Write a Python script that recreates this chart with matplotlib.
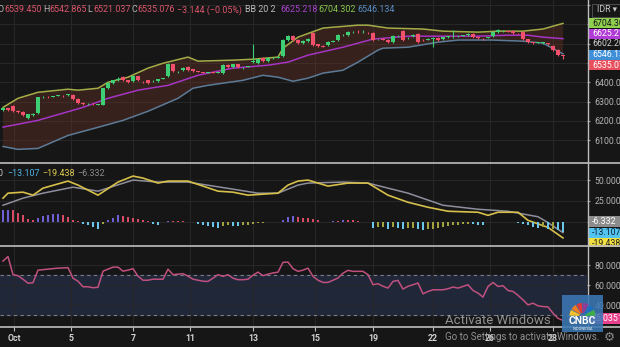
import matplotlib
matplotlib.use("Agg")
import matplotlib.pyplot as plt
from matplotlib.lines import Line2D
from matplotlib.patches import Rectangle, Wedge

plt.rcParams['font.family'] = ['Roboto', 'DejaVu Sans']

# USD/IDR candles
opens = [6255, 6265, 6276, 6250, 6245, 6214, 6232, 6240, 6322, 6324,
         6326, 6330, 6330, 6333, 6336, 6312, 6294, 6286, 6288, 6284,
         6283, 6369, 6395, 6410, 6426, 6410, 6405, 6431, 6402, 6410,
         6405, 6405, 6418, 6431, 6493, 6452, 6462, 6478, 6467, 6457,
         6452, 6450, 6452, 6450, 6447, 6491, 6478, 6493, 6473, 6480,
         6504, 6500, 6524, 6509, 6524, 6527, 6535, 6618, 6638, 6618,
         6602, 6612, 6654, 6597, 6586, 6592, 6610, 6618, 6643, 6643,
         6659, 6661, 6659, 6656, 6654, 6621, 6623, 6618, 6607, 6638,
         6664, 6628, 6640, 6649, 6618, 6620, 6623, 6628, 6623, 6633,
         6638, 6638, 6640, 6643, 6649, 6633, 6623, 6630, 6638, 6659,
         6664, 6664, 6664, 6654, 6659, 6623, 6607, 6605, 6602, 6602,
         6586, 6566, 6539.450]
highs = [6270, 6268, 6280, 6255, 6250, 6238, 6242, 6326, 6328, 6327,
         6331, 6336, 6334, 6341, 6340, 6316, 6298, 6291, 6291, 6289,
         6372, 6400, 6414, 6425, 6430, 6413, 6436, 6434, 6406, 6413,
         6410, 6419, 6424, 6497, 6496, 6458, 6477, 6482, 6470, 6460,
         6455, 6455, 6455, 6455, 6492, 6494, 6496, 6496, 6479, 6486,
         6600, 6522, 6528, 6528, 6530, 6533, 6622, 6645, 6642, 6622,
         6616, 6628, 6660, 6600, 6590, 6612, 6616, 6648, 6649, 6663,
         6664, 6670, 6672, 6660, 6658, 6626, 6627, 6622, 6642, 6644,
         6668, 6634, 6647, 6653, 6622, 6627, 6634, 6632, 6636, 6641,
         6669, 6644, 6646, 6652, 6652, 6636, 6627, 6636, 6663, 6673,
         6670, 6668, 6668, 6657, 6663, 6626, 6610, 6610, 6610, 6605,
         6590, 6570, 6542.865]
lows = [6250, 6250, 6245, 6240, 6225, 6208, 6228, 6236, 6318, 6318,
        6322, 6327, 6325, 6330, 6307, 6290, 6282, 6282, 6281, 6280,
        6280, 6365, 6390, 6406, 6406, 6396, 6400, 6405, 6396, 6391,
        6401, 6402, 6415, 6428, 6452, 6448, 6458, 6458, 6453, 6451,
        6447, 6446, 6447, 6446, 6444, 6474, 6475, 6474, 6470, 6477,
        6500, 6496, 6505, 6505, 6520, 6523, 6530, 6614, 6614, 6598,
        6598, 6608, 6588, 6582, 6580, 6588, 6606, 6614, 6640, 6640,
        6656, 6656, 6655, 6651, 6614, 6617, 6616, 6603, 6603, 6634,
        6612, 6624, 6636, 6602, 6612, 6617, 6581, 6614, 6620, 6630,
        6628, 6635, 6637, 6640, 6630, 6624, 6618, 6627, 6634, 6655,
        6661, 6659, 6650, 6649, 6618, 6602, 6600, 6601, 6599, 6594,
        6562, 6535, 6521.037]
closes = [6265, 6255, 6250, 6245, 6229, 6234, 6238, 6322, 6324, 6322,
          6328, 6333, 6328, 6338, 6312, 6294, 6286, 6288, 6285, 6286,
          6369, 6395, 6410, 6418, 6410, 6400, 6431, 6410, 6400, 6395,
          6407, 6416, 6421, 6493, 6457, 6455, 6473, 6462, 6457, 6455,
          6450, 6452, 6450, 6452, 6488, 6478, 6493, 6478, 6476, 6483,
          6509, 6519, 6509, 6524, 6527, 6530, 6618, 6638, 6618, 6602,
          6612, 6623, 6592, 6586, 6584, 6607, 6612, 6643, 6645, 6659,
          6661, 6659, 6661, 6654, 6618, 6623, 6620, 6607, 6638, 6640,
          6618, 6630, 6643, 6607, 6616, 6623, 6628, 6618, 6633, 6638,
          6639, 6640, 6643, 6649, 6633, 6628, 6621, 6633, 6659, 6669,
          6666, 6662, 6654, 6652, 6623, 6607, 6604, 6607, 6607, 6597,
          6566, 6538.22, 6535.076]

# Bollinger Bands (20, 2)
bb_upper_idx = [0, 3, 7, 13, 15, 19, 21, 25, 29, 32, 37, 39, 46, 50,
                55, 56, 59, 64, 71, 73, 77, 84, 88, 95, 99, 104, 108, 112]
bb_upper = [6270, 6317, 6348, 6364, 6359, 6369, 6400, 6426, 6473, 6498,
            6530, 6509, 6514, 6519, 6530, 6576, 6633, 6680, 6695, 6695,
            6680, 6675, 6664, 6659, 6664, 6664, 6675, 6704.302]
bb_mid_idx = [0, 7, 16, 21, 27, 33, 39, 46, 53, 57, 61, 68, 74, 81,
              88, 95, 101, 105, 108, 112]
bb_mid = [6168, 6203, 6270, 6317, 6359, 6384, 6436, 6473, 6488, 6504,
          6540, 6581, 6623, 6638, 6638, 6638, 6643, 6643, 6633, 6625.218]
bb_lower_idx = [0, 3, 7, 13, 19, 24, 29, 35, 38, 41, 48, 52, 55, 58,
                61, 64, 68, 71, 75, 76, 81, 87, 91, 98, 104, 108, 112]
bb_lower = [6068, 6053, 6058, 6125, 6167, 6203, 6250, 6317, 6369, 6384,
            6410, 6436, 6426, 6405, 6421, 6447, 6462, 6504, 6566, 6576,
            6581, 6607, 6618, 6618, 6612, 6602, 6546.134]

# MACD (12, 26, 9)
macd_idx = [0, 1, 4, 6, 8, 13, 15, 19, 23, 26, 28, 31, 33, 37, 43, 46,
            49, 55, 57, 59, 61, 65, 69, 73, 77, 81, 85, 89, 95, 97, 99,
            103, 105, 109, 112]
macd_line = [28.3, 34.3, 35.5, 31.9, 40.3, 48.8, 44.0, 31.9, 47.6, 54.8,
             52.4, 46.4, 48.8, 48.8, 36.7, 35.5, 31.9, 34.3, 44.0, 48.8,
             50.0, 42.8, 46.4, 46.4, 31.9, 23.4, 17.4, 12.6, 11.4, 7.7,
             11.4, 11.4, 1.7, -6.8, -19.438]
signal_idx = [0, 4, 8, 14, 19, 26, 31, 37, 46, 51, 55, 59, 61, 68, 73,
              81, 88, 95, 101, 107, 109, 112]
signal_line = [19.8, 28.3, 34.3, 41.5, 36.7, 50.0, 47.6, 47.6, 39.1, 34.3,
               34.3, 44.0, 46.4, 47.6, 46.4, 34.3, 19.8, 15.0, 12.6, 6.0,
               -1.0, -13.107]
macd_hist = [6.9, 7.2, 7.2, 5.3, 3.8, 1.8, 0.8, 2.4, 3.2, 3.8,
             4.4, 4.9, 3.8, 2.8, 1.2, 0.2, -1.2, -2.2, -3.2, -4.2,
             -1.6, 1.2, 2.4, 3.8, 3.6, 2.8, 2.4, 1.8, 1.2, 0.4,
             -1.2, -2.2, -0.4, 0.4, 0.4, 0.4, 0.2, -0.2, -0.4, -1.2,
             -2.2, -2.8, -3.2, -3.8, -2.8, -2.2, -2.4, -2.6, -2.2, -1.8,
             -1.2, -0.8, -0.6, -0.4, -0.2, -0.2, 1.2, 2.8, 3.6, 2.8,
             2.4, 2.0, 1.8, 0.8, -0.2, -0.2, 0.2, 0.2, 0.8, 0.8,
             0.8, 0.4, -0.2, -0.2, -3.6, -3.2, -3.2, -4.2, -3.2, -3.6,
             -4.2, -3.6, -3.6, -4.2, -5.2, -4.2, -4.2, -3.6, -3.2, -2.8,
             -2.2, -2.2, -1.6, -1.2, -1.6, -1.8, -2.2, -0.2, -0.2, 0.0,
             -0.2, -0.2, -0.4, -0.8, -1.2, -2.2, -3.2, -3.6, -3.2, -4.2,
             -4.2, -4.8, -6.332]

# RSI (14)
rsi = [84, 88.5, 70.5, 69.5, 66, 62, 62.5, 75, 75.5, 76,
       76.5, 77, 77.2, 77.5, 67, 64, 58.5, 58.5, 57.5, 58,
       74, 76, 78, 78, 74, 75, 76.5, 69, 65, 65,
       66, 66, 66, 76, 70.5, 71, 71.5, 69, 66, 65,
       64, 63.8, 67, 70.5, 68.8, 70.5, 67, 65.5, 65.5, 66,
       70, 73, 69.5, 71, 72.2, 73, 82.8, 83, 76.5, 73.8,
       75, 77, 68.8, 65, 62.8, 62.8, 65, 67.2, 72, 74.8,
       73.8, 73.8, 73.8, 70.5, 60.5, 61.5, 59, 57.2, 63.8, 64.8,
       56.2, 59, 60.5, 62.2, 51.5, 53.8, 55.5, 55.5, 55.5, 56.5,
       58.2, 57.2, 58.8, 60.5, 54.8, 52.2, 48.2, 58.8, 62.8, 58.8,
       59.5, 54.8, 53.8, 50, 45.5, 40.5, 42.2, 39.5, 38.8, 38.5,
       32.2, 27.2, 25.0351]

date_ticks = [2.2, 13.6, 26, 37.4, 50, 62.4, 74, 86, 97.4, 110]
date_labels = ['Oct', '5', '7', '11', '13', '15', '19', '22', '26', '28']

W, H = 620, 347
BG = '#161616'
GRID = '#272727'
UP, DOWN = '#3ecf74', '#f0506a'


def fx(x):
    return x / W


def fy(y):
    return 1 - y / H


fig = plt.figure(figsize=(W / 100, H / 100), dpi=100, facecolor=BG)
ax = fig.add_axes([0, fy(163.5), fx(587), 163.5 / H])
ax_m = fig.add_axes([0, fy(245.5), fx(587), 81.5 / H])
ax_h = ax_m.twinx()
ax_r = fig.add_axes([0, fy(327), fx(587), 81.5 / H])

for a in (ax, ax_m, ax_r):
    a.set_facecolor(BG)
    a.set_xlim(-0.6, 116.8)
    a.set_xticks(date_ticks)
    a.grid(True, color=GRID, lw=0.8)
    a.set_axisbelow(True)
    a.yaxis.tick_right()
    a.tick_params(axis='y', length=2.5, width=0.8, color='#9a9a9a',
                  labelsize=6.3, labelcolor='#b4b4b4', pad=3)
    a.tick_params(axis='x', length=0, labelbottom=False)
    for s in a.spines.values():
        s.set_visible(False)
ax_h.set_xlim(-0.6, 116.8)
ax_h.axis('off')

# price pane
ax.set_ylim(5980, 6825)
ax.set_yticks(range(6100, 6900, 100))
ax.set_yticklabels(['6100.00', '6200.00', '6300.00', '6400.00', '', '', '', ''])
ax.fill(bb_upper_idx + bb_lower_idx[::-1], bb_upper + bb_lower[::-1],
        color='#7a3a2a', alpha=0.32, lw=0, zorder=1)
ax.plot(bb_upper_idx, bb_upper, color='#a2ad48', lw=1.1, zorder=2)
ax.plot(bb_mid_idx, bb_mid, color='#a634c4', lw=1.1, zorder=2)
ax.plot(bb_lower_idx, bb_lower, color='#5d7b97', lw=1.1, zorder=2)

idx = list(range(len(closes)))
cols = [UP if c >= o else DOWN for o, c in zip(opens, closes)]
ax.vlines(idx, lows, highs, colors=cols, lw=0.8, zorder=3)
ax.bar(idx, [max(abs(c - o), 3) for o, c in zip(opens, closes)],
       bottom=[min(o, c) for o, c in zip(opens, closes)],
       width=0.72, color=cols, lw=0, zorder=4)

# MACD pane
ax_m.set_ylim(-28.5, 69.3)
ax_h.set_ylim(-14.25, 34.65)
ax_m.set_yticks([0, 25, 50])
ax_m.set_yticklabels(['', '25.000', '50.000'])
hist_colors = []
prev = 0
for h in macd_hist:
    if h >= 0:
        hist_colors.append('#6e5fd6' if h > prev else '#d94a64')
    else:
        hist_colors.append('#6cc6ec' if h < prev else '#a3a23c')
    prev = h
ax_h.bar(idx, macd_hist, width=0.42, color=hist_colors, lw=0)
ax_m.plot(signal_idx, signal_line, color='#8e8e9c', lw=1.1, zorder=3)
ax_m.plot(macd_idx, macd_line, color='#d6bf4a', lw=1.2, zorder=4)

# RSI pane
ax_r.set_ylim(18.5, 99.5)
ax_r.set_yticks([40, 60, 80])
ax_r.set_yticklabels(['40.0000', '60.0000', '80.0000'])
ax_r.axhspan(30, 70, color='#1f2739', zorder=0.5)
for lvl in (30, 70):
    ax_r.axhline(lvl, color='#7e7e7e', lw=0.8, ls=(0, (3, 3)), zorder=1)
ax_r.plot(idx, rsi, color='#c0507f', lw=1.1, zorder=3)
ax_r.tick_params(axis='x', length=3, width=0.8, color='#bdbdbd',
                 labelbottom=True, labelsize=6.3, labelcolor='#d2d2d2', pad=2)
ax_r.set_xticklabels(date_labels, fontweight='bold')

# pane separators and price scale edge
for yy in (163.5, 245.8, 327.2):
    fig.add_artist(Line2D([0, 1], [fy(yy)] * 2, transform=fig.transFigure,
                          color='#bdbdbd', lw=1.2, zorder=8))
fig.add_artist(Line2D([fx(587.5)] * 2, [fy(327), 1], transform=fig.transFigure,
                      color='#bdbdbd', lw=1, zorder=8))


def label_box(y0, y1, text, bg, fg):
    if bg is not None:
        fig.add_artist(Rectangle((fx(588.5), fy(y1)), fx(W - 588.5), (y1 - y0) / H,
                                 transform=fig.transFigure, facecolor=bg,
                                 edgecolor='none', zorder=6))
    fig.text(fx(592), fy((y0 + y1) / 2), text, color=fg, fontsize=6.3,
             va='center', ha='left', zorder=7)


# currency selector
fig.add_artist(Rectangle((fx(592), fy(17)), fx(30), 13 / H, transform=fig.transFigure,
                         facecolor='none', edgecolor='#4a4a4a', lw=0.8, zorder=6))
fig.text(fx(597), fy(10), 'IDR \u25be', color='#c8c8c8', fontsize=6.3,
         va='center', ha='left', zorder=7)

label_box(18, 28, '6704.30', '#8fd14f', '#161616')
label_box(28.5, 38.5, '6625.21', '#b03ad6', '#ffffff')
label_box(39, 49, '6602.20', None, '#d0d0d0')
label_box(49.5, 59.5, '6546.13', '#3f8fd8', '#ffffff')
label_box(60, 70, '6535.07', '#e8505e', '#ffffff')

label_box(216, 227, '-6.332', '#8c8c8c', '#ffffff')
label_box(227.5, 237.5, '-13.107', '#52c4f0', '#10203a')
label_box(238, 248, '-19.438', '#f0df3e', '#222222')
fig.add_artist(Rectangle((fx(588.5), fy(258)), fx(W - 588.5), 11.5 / H,
                         transform=fig.transFigure, facecolor=BG,
                         edgecolor='none', zorder=7.5))
label_box(313, 324, '25.0351', '#e8408c', '#ffffff')

# header legend
header = [('O', -3, '#b8b8b8'), ('6539.450', 4, '#dc566c'),
          ('H', 43, '#b8b8b8'), ('6542.865', 49, '#dc566c'),
          ('L', 87, '#b8b8b8'), ('6521.037', 93, '#dc566c'),
          ('C', 131, '#b8b8b8'), ('6535.076', 137, '#dc566c'),
          ('\u22123.144 (\u22120.05%)', 177, '#dc566c'),
          ('BB 20 2', 245, '#bdbdbd'), ('6625.218', 280, '#a844cc'),
          ('6704.302', 318, '#8cc84b'), ('6546.134', 357, '#5b8ec4')]
for text, x, c in header:
    fig.text(fx(x), fy(10), text, color=c, fontsize=6.4, va='center', ha='left')

# MACD legend
fig.text(fx(-3), fy(173), '0', color='#c8c8c8', fontsize=6.4, va='center')
fig.text(fx(7), fy(173), '\u221213.107', color='#4fb6e6', fontsize=6.4, va='center')
fig.text(fx(42), fy(173), '\u221219.438', color='#e0cd50', fontsize=6.4, va='center')
fig.text(fx(77), fy(173), '\u22126.332', color='#8c8c8c', fontsize=6.4, va='center')

# broadcaster logo
lg = fig.add_axes([fx(562), fy(332), 41 / W, 37 / H], zorder=10)
lg.set_xlim(0, 41)
lg.set_ylim(0, 37)
lg.set_facecolor('#3b78b4')
lg.patch.set_alpha(0.88)
lg.set_xticks([])
lg.set_yticks([])
for s in lg.spines.values():
    s.set_visible(False)
feathers = ['#f3c22c', '#ee7d22', '#e2373c', '#8e3c95', '#1d6fc0', '#3fae49']
for k, c in enumerate(feathers):
    a0 = 180 - (k + 1) * 30
    lg.add_patch(Wedge((20.5, 16), 13, a0 + 2, a0 + 28, width=10, facecolor=c,
                       edgecolor='none'))
lg.text(20.5, 10.5, 'CNBC', color='white', fontsize=7.5, fontweight='bold',
        ha='center', va='center')
lg.text(20.5, 3.5, 'INDONESIA', color='white', fontsize=2.8, ha='center', va='center')

# OS watermark
fig.text(fx(445), fy(320.5), 'Activate Windows', color='#a8a8a8', alpha=0.85,
         fontsize=9.5, va='center', ha='left', zorder=9)
fig.text(fx(445), fy(337), 'Go to Settings to activate Windows.', color='#a8a8a8',
         alpha=0.85, fontsize=7, va='center', ha='left', zorder=9)
fig.text(fx(609), fy(337), '\u2699', color='#8a8a8a', fontsize=9,
         va='center', ha='center', family=['DejaVu Sans'])

fig.savefig('out.png', dpi=100, facecolor=BG)
